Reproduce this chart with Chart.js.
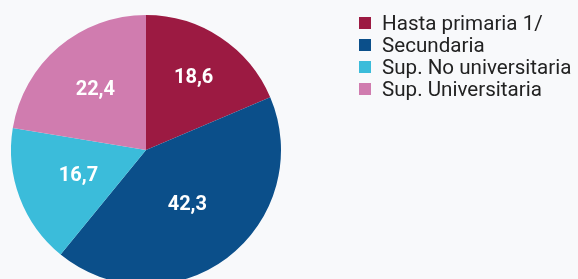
<!DOCTYPE html>
<html>
<head>
<meta charset="utf-8">
<script src="https://cdn.jsdelivr.net/npm/chart.js@4"></script>
<style>
  html, body { margin: 0; padding: 0; background: #f8f9fb; overflow: hidden; }
  #wrap { position: relative; width: 578px; height: 290px; }
  #leyenda { position: absolute; left: 359px; top: 12px; font-family: Roboto, sans-serif; font-size: 20.6px; color: #222; white-space: nowrap; }
  #leyenda div { height: 22px; line-height: 22px; display: flex; align-items: center; }
  #leyenda span.sq { display: inline-block; width: 12px; height: 12px; margin-right: 11px; }
</style>
</head>
<body>
<div id="wrap">
  <canvas id="chartNivel" width="578" height="290"></canvas>
  <div id="leyenda"></div>
</div>
<script>
// datos del grafico
const categorias = ["Hasta primaria 1/", "Secundaria", "Sup. No universitaria", "Sup. Universitaria"];
const valores = [18.6, 42.3, 16.7, 22.4];
const etiquetas = ["18,6", "42,3", "16,7", "22,4"];
const colores = ["#9c1a42", "#0b4f8a", "#3bbcda", "#d07caf"];

// leyenda html
const leyenda = document.getElementById("leyenda");
for (let i = 0; i < categorias.length; i++) {
  const fila = document.createElement("div");
  fila.innerHTML = '<span class="sq" style="background:' + colores[i] + '"></span>' + categorias[i];
  leyenda.appendChild(fila);
}

// etiquetas dentro de cada porcion
const radioEtiqueta = [0.64, 0.51, 0.535, 0.58];
const pluginEtiquetas = {
  id: "etiquetas",
  afterDatasetsDraw(chart) {
    const ctx = chart.ctx;
    const meta = chart.getDatasetMeta(0);
    ctx.save();
    ctx.fillStyle = "#ffffff";
    ctx.font = "bold 20px Roboto";
    ctx.textAlign = "center";
    ctx.textBaseline = "middle";
    meta.data.forEach(function (arc, i) {
      const ang = (arc.startAngle + arc.endAngle) / 2;
      const r = arc.outerRadius * radioEtiqueta[i];
      ctx.fillText(etiquetas[i], arc.x + Math.cos(ang) * r, arc.y + Math.sin(ang) * r);
    });
    ctx.restore();
  },
};

const ctx_nivel = document.getElementById("chartNivel");
new Chart(ctx_nivel, {
  type: "pie",
  data: {
    labels: categorias,
    datasets: [
      {
        data: valores,
        backgroundColor: colores,
        borderWidth: 0,
      },
    ],
  },
  options: {
    responsive: false,
    animation: false,
    layout: {
      padding: { left: 11, right: 297, top: 15, bottom: 5 },
    },
    plugins: {
      legend: { display: false },
      tooltip: { enabled: false },
    },
  },
  plugins: [pluginEtiquetas],
});
</script>
</body>
</html>
